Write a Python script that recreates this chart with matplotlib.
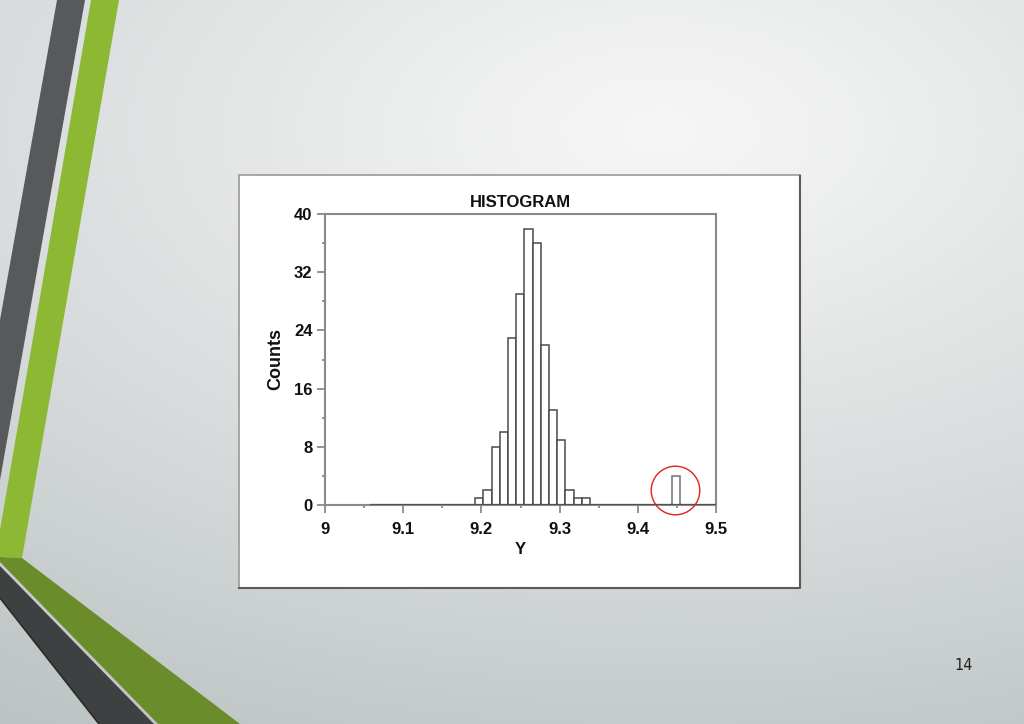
import matplotlib
matplotlib.use('Agg')
import matplotlib.pyplot as plt
import numpy as np
from matplotlib.patches import Polygon, Rectangle

# histogram data
bin_start = 9.192
bin_width = 0.0105
counts = [1, 2, 8, 10, 23, 29, 38, 36, 22, 13, 9, 2, 1, 1]
outlier_left = 9.444
outlier_count = 4
baseline_range = (9.057, 9.5)

x_ticks = [9, 9.1, 9.2, 9.3, 9.4, 9.5]
x_tick_labels = ['9', '9.1', '9.2', '9.3', '9.4', '9.5']
y_ticks = [0, 8, 16, 24, 32, 40]

W, H = 1024, 724
fig = plt.figure(figsize=(W / 100, H / 100), dpi=100)

# slide background, pixel coordinates
bg = fig.add_axes([0, 0, 1, 1])
bg.set_xlim(0, W)
bg.set_ylim(H, 0)
bg.axis('off')

yy, xx = np.mgrid[0:H, 0:W]
d = np.sqrt(((xx - 660) / 1.8) ** 2 + (yy - 130) ** 2) / 740.0
d = np.clip(d, 0, 1) ** 1.1
light = np.array([0.965, 0.965, 0.965])
dark = np.array([0.72, 0.75, 0.75])
img = light[None, None, :] * (1 - d[..., None]) + dark[None, None, :] * d[..., None]
bg.imshow(img, extent=(0, W, H, 0), zorder=0)

# decorative stripes
bg.add_patch(Polygon([(57, 0), (85, 0), (0, 480), (0, 320)], closed=True,
                     facecolor='#58595b', edgecolor='none', zorder=1))
bg.add_patch(Polygon([(91, 0), (119, 0), (22, 558), (0, 557), (0, 530)], closed=True,
                     facecolor='#8cb833', edgecolor='none', zorder=1))
bg.add_patch(Polygon([(0, 557), (22, 558), (240, 724), (158, 724), (0, 562)], closed=True,
                     facecolor='#6b8c2a', edgecolor='none', zorder=1))
bg.add_patch(Polygon([(0, 566), (154, 724), (99, 724), (0, 598)], closed=True,
                     facecolor='#3f4042', edgecolor='none', zorder=1))
bg.plot([0, 99], [598, 724], color='#2a2a2a', lw=1.2, zorder=2)

# embedded picture frame
bg.add_patch(Rectangle((239, 175), 561, 413, facecolor='white',
                       edgecolor='#9a9a90', lw=1.2, zorder=3))
bg.plot([800, 800, 239], [176, 588, 588], color='#5c5c55', lw=1.5, zorder=4)

# page number
bg.text(964, 666, '14', ha='center', va='center', fontsize=10.5,
        family='DejaVu Sans', color='#222222', zorder=5)

# histogram axes
left, right, top, bottom = 325, 716, 214, 505
ax = fig.add_axes([left / W, (H - bottom) / H, (right - left) / W, (bottom - top) / H])
ax.set_facecolor('white')

edges = bin_start + bin_width * np.arange(len(counts))
ax.bar(edges, counts, width=bin_width, align='edge', facecolor='white',
       edgecolor='#4a4a4a', linewidth=1.1, zorder=3)
ax.bar([outlier_left], [outlier_count], width=bin_width, align='edge',
       facecolor='white', edgecolor='#707070', linewidth=1.1, zorder=3)
ax.hlines(0, baseline_range[0], baseline_range[1], color='#505050', lw=1.6, zorder=4)

# red circle around the outlier
ax.plot([outlier_left + bin_width / 2 - 0.002], [2.0], marker='o', markersize=35,
        markerfacecolor='none', markeredgecolor='#e02020', markeredgewidth=1.0,
        zorder=5, clip_on=False)

ax.set_xlim(9, 9.5)
ax.set_ylim(0, 40)
ax.set_xticks(x_ticks)
ax.set_xticklabels(x_tick_labels)
ax.set_xticks(np.arange(9.05, 9.5, 0.1), minor=True)
ax.set_yticks(y_ticks)
ax.set_yticks(np.arange(4, 40, 8), minor=True)

font = dict(family='Liberation Sans', weight='bold')
for lab in ax.get_xticklabels() + ax.get_yticklabels():
    lab.set_fontfamily('Liberation Sans')
    lab.set_fontweight('bold')
    lab.set_fontsize(12)
    lab.set_color('#111111')

ax.tick_params(which='major', direction='out', length=6, width=1.2, color='#808080', pad=3)
ax.tick_params(axis='x', which='major', pad=6)
ax.tick_params(which='minor', direction='out', length=2.5, width=1.2, color='#808080')
for sp in ax.spines.values():
    sp.set_color('#8a8a8a')
    sp.set_linewidth(1.5)

ax.set_title('HISTOGRAM', fontsize=12, color='#111111', pad=5, **font)
ax.set_xlabel('Y', fontsize=12, color='#111111', labelpad=4, **font)
ax.set_ylabel('Counts', fontsize=13, color='#111111', labelpad=7, **font)

fig.savefig('out.png', dpi=100)
plt.close(fig)
